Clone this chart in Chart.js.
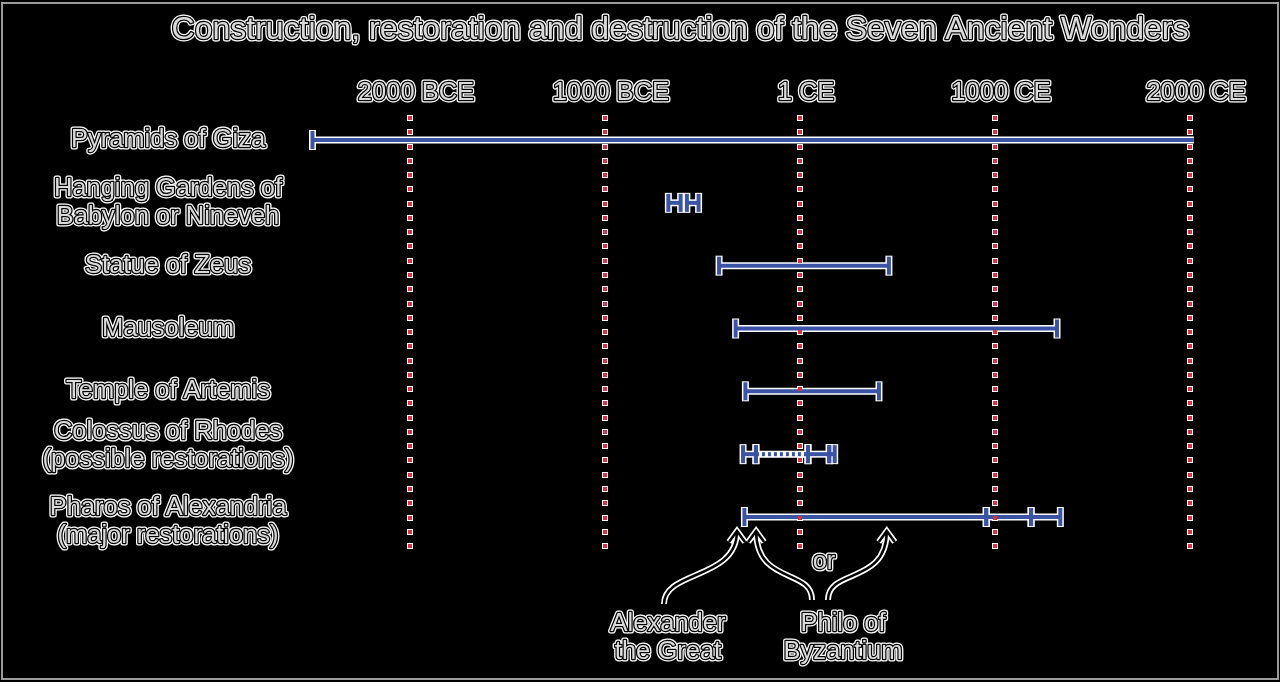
<!DOCTYPE html>
<html>
<head>
<meta charset="utf-8">
<script src="https://cdn.jsdelivr.net/npm/chart.js@4.4.1/dist/chart.umd.min.js"></script>
<style>
  html, body { margin: 0; padding: 0; background: #000; }
  canvas { display: block; }
</style>
</head>
<body>
<canvas id="c" width="1280" height="682"></canvas>
<script>
// --- data (years; negative = BCE, 0 = 1 CE) ---
const titleText = 'Construction, restoration and destruction of the Seven Ancient Wonders';
const rowLabels = [
  ['Pyramids of Giza'],
  ['Hanging Gardens of', 'Babylon or Nineveh'],
  ['Statue of Zeus'],
  ['Mausoleum'],
  ['Temple of Artemis'],
  ['Colossus of Rhodes', '(possible restorations)'],
  ['Pharos of Alexandria', '(major restorations)']
];
const tickYears = [-2000, -1000, 0, 1000, 2000];
const tickLabels = ['2000 BCE', '1000 BCE', '1 CE', '1000 CE', '2000 CE'];

// segments per wonder: [start, end]
const pyramids = [[-2500, 2020]];
const gardens = [[-675, -612], [-580, -520]];
const zeus = [[-415, 456]];
const mausoleum = [[-330, 1318]];
const artemis = [[-280, 405]];
const colossus = [[-292, -226], [41, 150], [150, 178]];
const colossusGap = [[-226, 41]];
const pharos = [[-285, 955], [955, 1185], [1185, 1335]];

// annotations
const alexanderYear = -323;
const philoYears = [-225, 445];

const BLUE = '#3b53a4';
const FONT = '"Liberation Sans", Arial, sans-serif';

// build datasets: white underlay + blue line for each segment
const datasets = [];
function addSegments(segs, row, opts) {
  opts = opts || {};
  segs.forEach(s => {
    const radii = opts.openEnd ? [9, 0] : [9, 9];
    const data = [{ x: s[0], y: row }, { x: s[1], y: row }];
    datasets.push({
      data: data, order: 2,
      borderColor: '#fff', borderWidth: 7,
      pointStyle: 'line', rotation: 90,
      pointRadius: radii.map(r => r ? r + 1 : 0),
      pointBorderColor: '#fff', pointBorderWidth: 7,
      pointBackgroundColor: '#fff'
    });
    datasets.push({
      data: data, order: 1,
      borderColor: BLUE, borderWidth: 4,
      borderDash: opts.dashed ? [3, 3] : [],
      pointStyle: 'line', rotation: 90,
      pointRadius: radii,
      pointBorderColor: BLUE, pointBorderWidth: 4,
      pointBackgroundColor: BLUE
    });
  });
}
addSegments(pyramids, 0, { openEnd: true });
addSegments(gardens, 1);
addSegments(zeus, 2);
addSegments(mausoleum, 3);
addSegments(artemis, 4);
addSegments(colossusGap, 5, { dashed: true });
addSegments(colossus, 5);
addSegments(pharos, 6);

function outlined(ctx, text, x, y, size) {
  ctx.save();
  ctx.font = size + 'px ' + FONT;
  ctx.textAlign = 'center';
  ctx.textBaseline = 'middle';
  ctx.lineJoin = 'round';
  ctx.strokeStyle = '#fff';
  ctx.lineWidth = 5;
  ctx.strokeText(text, x, y);
  ctx.strokeStyle = '#000';
  ctx.lineWidth = 2.5;
  ctx.strokeText(text, x, y);
  ctx.fillStyle = '#dadada';
  ctx.fillText(text, x, y);
  ctx.restore();
}

function arrow(ctx, x0, y0, c1x, c1y, c2x, c2y, x1, y1) {
  const path = () => {
    ctx.beginPath();
    ctx.moveTo(x0, y0);
    ctx.bezierCurveTo(c1x, c1y, c2x, c2y, x1, y1);
    ctx.moveTo(x1 - 8, y1 + 11);
    ctx.lineTo(x1, y1);
    ctx.lineTo(x1 + 8, y1 + 11);
  };
  ctx.save();
  ctx.lineJoin = 'miter';
  ctx.lineCap = 'butt';
  path(); ctx.strokeStyle = '#fff'; ctx.lineWidth = 6; ctx.stroke();
  path(); ctx.strokeStyle = '#000'; ctx.lineWidth = 2.5; ctx.stroke();
  ctx.restore();
}

// small vertical nudges for the two-line labels
const labelShift = [0, 0, 0, 0, 0, -8, 5];

const deco = {
  id: 'deco',
  beforeDraw(chart) {
    const ctx = chart.ctx;
    ctx.save();
    ctx.fillStyle = '#000';
    ctx.fillRect(0, 0, chart.width, chart.height);
    ctx.strokeStyle = '#9a9a9a';
    ctx.lineWidth = 2;
    ctx.strokeRect(2, 3, chart.width - 4, chart.height - 6);
    ctx.restore();
  },
  beforeDatasetsDraw(chart) {
    const ctx = chart.ctx, xs = chart.scales.x;
    ctx.save();
    ctx.fillStyle = '#fff';
    tickYears.forEach(v => {
      const x = Math.round(xs.getPixelForValue(v));
      for (let k = 0; k <= 30; k++) {
        const y = Math.round(118 + k * 14.27);
        ctx.fillRect(x - 3, y - 3, 6, 6);
      }
    });
    ctx.restore();
  },
  afterDatasetsDraw(chart) {
    const ctx = chart.ctx, xs = chart.scales.x, ys = chart.scales.y;
    ctx.save();
    ctx.fillStyle = '#d8323f';
    tickYears.forEach(v => {
      const x = Math.round(xs.getPixelForValue(v));
      for (let k = 0; k <= 30; k++) {
        const y = Math.round(118 + k * 14.27);
        ctx.fillRect(x - 2, y - 2, 4, 4);
      }
    });
    ctx.restore();

    // title
    outlined(ctx, titleText, 680, 30, 32);
    // x tick labels
    tickYears.forEach((v, i) => outlined(ctx, tickLabels[i], xs.getPixelForValue(v) + 6, 93, 25.5));
    // row labels
    rowLabels.forEach((lines, i) => {
      const yc = ys.getPixelForValue(i) + labelShift[i];
      const lh = 28.5;
      lines.forEach((t, j) => {
        outlined(ctx, t, 168, yc + (j - (lines.length - 1) / 2) * lh, 25.5);
      });
    });

    // annotations
    const ax = xs.getPixelForValue(alexanderYear);
    const p1 = xs.getPixelForValue(philoYears[0]);
    const p2 = xs.getPixelForValue(philoYears[1]);
    arrow(ctx, 664, 604, 664, 570, ax, 580, ax, 531);
    arrow(ctx, 812, 600, 812, 568, p1, 585, p1, 531);
    arrow(ctx, 828, 600, 828, 568, p2, 585, p2, 531);
    outlined(ctx, 'or', 824, 562, 25.5);
    outlined(ctx, 'Alexander', 668, 624, 25.5);
    outlined(ctx, 'the Great', 668, 652, 25.5);
    outlined(ctx, 'Philo of', 843, 624, 25.5);
    outlined(ctx, 'Byzantium', 843, 652, 25.5);
  }
};

new Chart(document.getElementById('c'), {
  type: 'line',
  data: { datasets: datasets },
  options: {
    responsive: false,
    animation: false,
    devicePixelRatio: 1,
    layout: { padding: { left: 300, right: 20, top: 108.6, bottom: 133.6 } },
    plugins: { legend: { display: false }, tooltip: { enabled: false } },
    elements: { line: { tension: 0 } },
    datasets: { line: { clip: false } },
    scales: {
      x: { type: 'linear', min: -2564, max: 2359, display: false },
      y: { type: 'linear', min: -0.5, max: 6.5, reverse: true, display: false }
    }
  },
  plugins: [deco]
});
</script>
</body>
</html>
